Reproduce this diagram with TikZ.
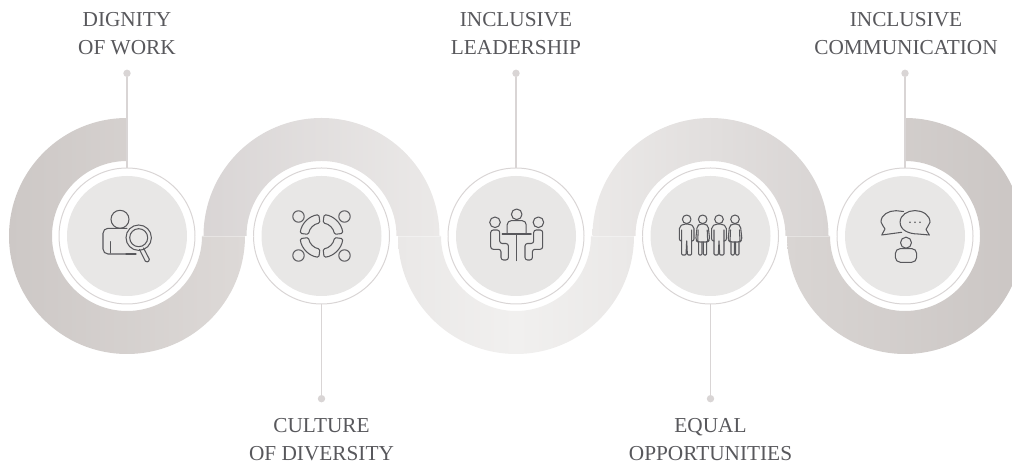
\documentclass[tikz,border=0pt]{standalone}
\usepackage{fontspec}
\setmainfont{Liberation Serif}
\usetikzlibrary{positioning}

\definecolor{bandA}{HTML}{CDC8C6}
\definecolor{bandB}{HTML}{DDD9D7}
\definecolor{bandC}{HTML}{D9D5D5}
\definecolor{bandD}{HTML}{EBE9E8}
\definecolor{bandE}{HTML}{EAE8E7}
\definecolor{bandF}{HTML}{F1F0EF}
\definecolor{bandG}{HTML}{EBE9E8}
\definecolor{bandH}{HTML}{D8D4D3}
\definecolor{bandI}{HTML}{D9D5D3}
\definecolor{bandJ}{HTML}{CBC6C4}
\definecolor{ringgray}{HTML}{D9D5D5}
\definecolor{discgray}{HTML}{E8E7E6}
\definecolor{inkgray}{HTML}{58585C}

\tikzset{
  hub/.style={circle,draw=ringgray,line width=1pt,minimum size=136pt,inner sep=0pt,outer sep=0pt},
  disc/.style={circle,fill=discgray,minimum size=120pt,inner sep=0pt,outer sep=0pt},
  stem/.style={circle,fill=ringgray,minimum size=7.4pt,inner sep=0pt,outer sep=0pt},
  stemline/.style={draw=ringgray,line width=1.2pt},
  seam/.style={draw=white,opacity=.35,line width=.8pt},
  caption/.style={text=inkgray,align=center,font=\fontsize{21.3}{28}\selectfont,inner sep=0pt,outer sep=0pt},
  iconline/.style={draw=inkgray,line width=1.05pt,line join=round,line cap=round},
  pics/seeker/.style={code={
    \draw[iconline] (-7,16.7) circle (9);
    \draw[iconline,rounded corners=5pt] (-1,-18) -- (-24,-18) -- (-24,7.7) -- (0,7.7);
    \draw[iconline] (-16.7,-5.7) -- (-16.7,-17);
    \draw[iconline] (-1,-18) -- (9,-18);
    \draw[iconline,fill=discgray] (11.7,-1.7) circle (12.7);
    \draw[iconline] (11.7,-1.7) circle (9);
    \draw[iconline,rounded corners=1.5pt] (12.5,-13.5) -- (19,-26.5) -- (23,-24.5) -- (16.5,-12);
  }},
  pics/circlegroup/.style={code={
    \foreach \a in {45,135,225,315}
      \draw[iconline,rounded corners=1.5pt] (\a-38:21.5) arc (\a-38:\a+38:21.5) -- (\a+38:13) arc (\a+38:\a-38:13) -- cycle;
    \foreach \sx/\sy in {-23/19.5,23/19.5,-23/-19.5,23/-19.5}
      \draw[iconline] (\sx,\sy) circle (5.7);
  }},
  pics/tablegroup/.style={code={
    \begin{scope}[xshift=.7pt]
      \draw[iconline] (0,21.7) circle (5.3);
      \draw[iconline,rounded corners=4pt] (-9.5,2) -- (-9.5,15.3) -- (9.5,15.3) -- (9.5,2);
      \draw[iconline] (-14.5,2) -- (14.5,2);
      \draw[iconline] (0,2) -- (0,-24.7);
      \foreach \s in {-1,1} {
        \begin{scope}[xscale=\s]
          \draw[iconline] (-21.7,13.7) circle (5.3);
          \draw[iconline,rounded corners=2.5pt] (-20,6) -- (-26,6) -- (-26,-13.3) -- (-15.7,-13.3) -- (-15.7,-24) -- (-8.3,-24) -- (-8.3,-7.5) -- (-17,-7.5) -- (-17,6) -- (-20,6);
        \end{scope}
      }
    \end{scope}
  }},
  pics/manfigure/.style={code={
    \draw[iconline] (0,16.7) circle (4.3);
    \draw[iconline,rounded corners=2pt] (-5,-5) -- (-7.3,-5) -- (-7.3,9.5) -- (-3,12) -- (3,12) -- (7.3,9.5) -- (7.3,-5) -- (5,-5);
    \draw[iconline,rounded corners=1pt] (-5,6) -- (-5,-19) -- (-.7,-19) -- (0,-4) -- (.7,-19) -- (5,-19) -- (5,6);
  }},
  pics/womanfigure/.style={code={
    \draw[iconline] (0,16.7) circle (4.3);
    \draw[iconline,rounded corners=2pt] (-7,-4) -- (-5.5,10) -- (-3,12) -- (3,12) -- (5.5,10) -- (7,-4) -- (5,-6) -- (-5,-6) -- cycle;
    \draw[iconline] (-4.5,6) -- (-5,-6);
    \draw[iconline] (4.5,6) -- (5,-6);
    \draw[iconline,rounded corners=1pt] (-4,-6) -- (-4,-19) -- (-.7,-19) -- (-.7,-6);
    \draw[iconline,rounded corners=1pt] (4,-6) -- (4,-19) -- (.7,-19) -- (.7,-6);
  }},
  pics/talkgroup/.style={code={
    \draw[iconline] (-1.5,24.5) to[out=170,in=0] (-9,25.3) to[out=180,in=90] (-24,14) to[out=-90,in=100] (-20,7) -- (-23.3,1) -- (-3.3,3.7);
    \draw[iconline] (-4.9,13.7) to[out=90,in=180] (10,25.4) to[out=0,in=90] (25,13.7) to[out=-90,in=85] (21,6.5) -- (24.3,1) -- (13,2) to[out=180,in=-90] (-4.9,13.7);
    \foreach \dx in {5,10,15}
      \fill[inkgray] (\dx,13.7) circle (.9);
    \draw[iconline] (1,-6.7) circle (5.5);
    \draw[iconline,rounded corners=5pt] (-9.7,-26.3) -- (-9.7,-12.6) -- (11.7,-12.6) -- (11.7,-26.3) -- cycle;
  }}
}

\begin{document}
\begin{tikzpicture}[x=1pt,y=1pt]
  \useasboundingbox (0,0) rectangle (1012,465);
  \clip (0,0) rectangle (1012,465);

  % the band, one piece per hub
  \shade[left color=bandA,right color=bandB] (127,347) arc (90:360:118) -- (202,229) arc (360:90:75) -- cycle;
  \foreach \cx/\start/\stop/\lc/\rc in {321.5/180/0/bandC/bandD,710.5/180/0/bandG/bandH}
    \shade[left color=\lc,right color=\rc] ([shift={(\start:118)}]\cx,229) arc (\start:\stop:118) -- ([shift={(\stop:75)}]\cx,229) arc (\stop:\start:75) -- cycle;
  \shade[left color=bandE,right color=bandE,middle color=bandF] (398,229) arc (180:360:118) -- (591,229) arc (360:180:75) -- cycle;
  \shade[left color=bandI,right color=bandJ] (905,347) arc (90:-180:118) -- (830,229) arc (-180:90:75) -- cycle;

  \node[hub] (dignity) at (127,229) {};
  \begin{scope}[node distance=58.5pt]
    \node[hub,right=of dignity] (culture) {};
    \node[hub,right=of culture] (leadership) {};
    \node[hub,right=of leadership] (equal) {};
    \node[hub,right=of equal] (talk) {};
  \end{scope}

  \node[disc] (dignitydisc) at (dignity) {};
  \node[disc] (culturedisc) at (culture) {};
  \node[disc] (leadershipdisc) at (leadership) {};
  \node[disc] (equaldisc) at (equal) {};
  \node[disc] (talkdisc) at (talk) {};

  \begin{scope}[node distance=91pt]
    \node[stem,above=of dignity] (dignitydot) {};
    \node[stem,below=of culture] (culturedot) {};
    \node[stem,above=of leadership] (leadershipdot) {};
    \node[stem,below=of equal] (equaldot) {};
    \node[stem,above=of talk] (talkdot) {};
  \end{scope}

  \begin{scope}[node distance=15pt]
    \node[caption,above=of dignitydot] (dignitytext) {DIGNITY\\OF WORK};
    \node[caption,below=16pt of culturedot] (culturetext) {CULTURE\\OF DIVERSITY};
    \node[caption,above=of leadershipdot] (leadershiptext) {INCLUSIVE\\LEADERSHIP};
    \node[caption,below=16pt of equaldot] (equaltext) {EQUAL\\OPPORTUNITIES};
    \node[caption,above=of talkdot,xshift=1pt] (talktext) {INCLUSIVE\\COMMUNICATION};
  \end{scope}

  \draw[stemline] (dignity) -- (dignitydot);
  \draw[stemline] (culture) -- (culturedot);
  \draw[stemline] (leadership) -- (leadershipdot);
  \draw[stemline] (equal) -- (equaldot);
  \draw[stemline] (talk) -- (talkdot);

  \draw[seam] (dignity) -- (culture);
  \draw[seam] (culture) -- (leadership);
  \draw[seam] (leadership) -- (equal);
  \draw[seam] (equal) -- (talk);

  \pic at (dignity) {seeker};
  \pic at (culture) {circlegroup};
  \pic at (leadership) {tablegroup};
  \pic at ([xshift=-23.8pt]equal) {manfigure};
  \pic at ([xshift=-7.8pt]equal) {womanfigure};
  \pic at ([xshift=8.5pt]equal) {manfigure};
  \pic at ([xshift=24.5pt]equal) {womanfigure};
  \pic at (talk) {talkgroup};
\end{tikzpicture}
\end{document}
